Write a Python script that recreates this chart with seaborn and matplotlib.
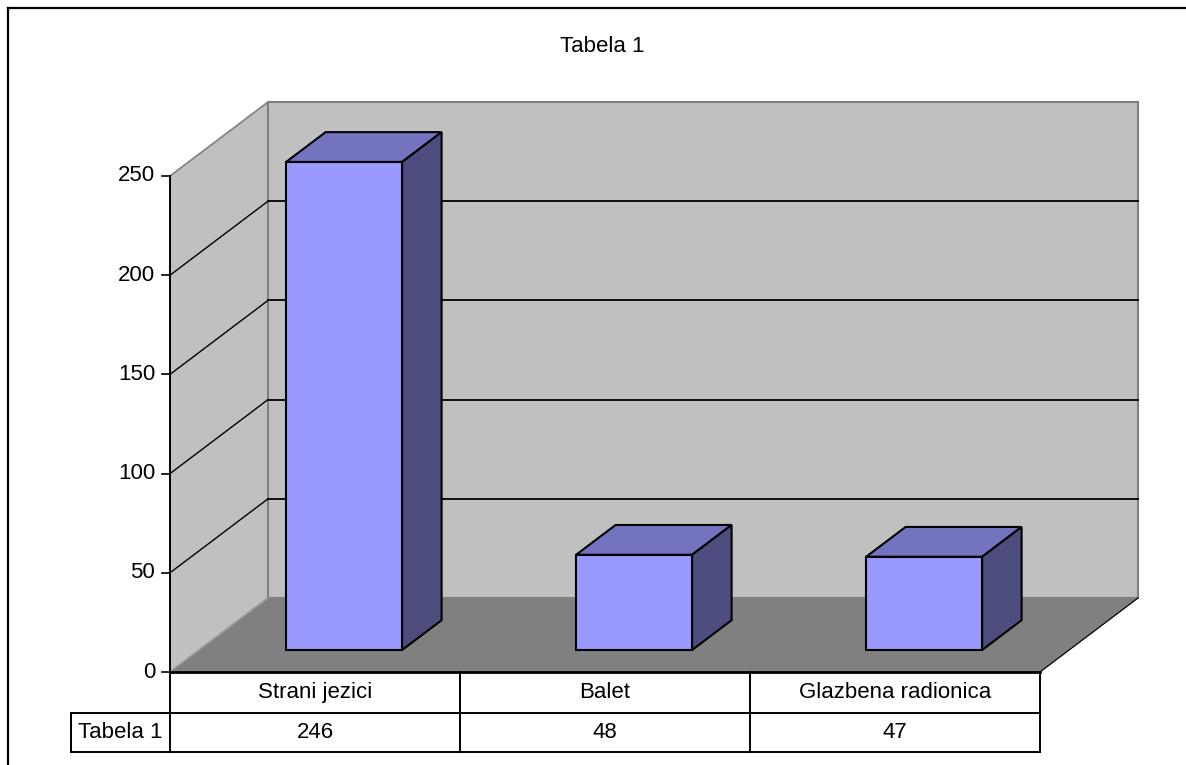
import matplotlib
matplotlib.use("Agg")
import matplotlib.pyplot as plt
from matplotlib.patches import Polygon
import seaborn as sns
import pandas as pd

categories = ["Strani jezici", "Balet", "Glazbena radionica"]
values = [246, 48, 47]
series_name = "Tabela 1"
chart_title = "Tabela 1"
y_ticks = [0, 50, 100, 150, 200, 250]

plt.rcParams['font.family'] = ['Liberation Sans', 'DejaVu Sans']

df = pd.DataFrame({"kategorija": categories, "broj": values})

# pixel <-> data mapping: category i centred at x=i, 290 px per category, 1.984 px per unit
PX_CAT = 290.0
PX_VAL = 496.0 / 250.0
W, H = 1186, 765
X0_PX, Y0_PX = 315.0, 672.0

# 3D depth offsets (in data units)
DX = 98.0 / PX_CAT
DV = 74.0 / PX_VAL
D0, D1 = 0.297, 0.70  # bar depth span as fraction of full depth
BAR_W = 0.4

fig = plt.figure(figsize=(W / 100, H / 100), dpi=100)
ax = fig.add_axes([0, 0, 1, 1])

left = -0.5
right = len(categories) - 0.5
vmax = y_ticks[-1]

wall_c = "#C0C0C0"
edge_c = "#808080"

# side wall
ax.add_patch(Polygon([(left, 0), (left + DX, DV), (left + DX, vmax + DV), (left, vmax)],
                     closed=True, facecolor=wall_c, edgecolor=edge_c, lw=1.2, zorder=0))
# back wall
ax.add_patch(Polygon([(left + DX, DV), (right + DX, DV), (right + DX, vmax + DV), (left + DX, vmax + DV)],
                     closed=True, facecolor=wall_c, edgecolor=edge_c, lw=1.5, zorder=0))
# floor
ax.add_patch(Polygon([(left, 0), (right, 0), (right + DX, DV), (left + DX, DV)],
                     closed=True, facecolor="#808080", edgecolor="none", zorder=1))
ax.plot([left, left + DX], [0, DV], color="#a0a0a0", lw=0.8, zorder=1.5)
ax.plot([right, right + DX], [0, DV], color="black", lw=0.9, zorder=1.5)

# gridlines
for t in y_ticks[1:-1]:
    ax.plot([left, left + DX], [t, t + DV], color="black", lw=1.0, zorder=2)
    ax.plot([left + DX, right + DX], [t + DV, t + DV], color="black", lw=1.3, zorder=2)

# value axis
ax.plot([left, left], [0, vmax], color="black", lw=1.4, zorder=6)
tick_len = 8.0 / PX_CAT
for t in y_ticks:
    ax.plot([left - tick_len, left], [t, t], color="black", lw=1.2, zorder=6)
    ax.text(left - 15.0 / PX_CAT, t, str(t), ha="right", va="center", fontsize=16, zorder=6)

# bars: front face via seaborn, then top & side faces
sns.barplot(data=df, x="kategorija", y="broj", width=BAR_W, color="#9999FF",
            saturation=1, edgecolor="black", linewidth=1.5, ax=ax)
bdx = (D1 - D0) * DX
bdv = (D1 - D0) * DV
for p in ax.patches:
    if not isinstance(p, matplotlib.patches.Rectangle):
        continue
    p.set_x(p.get_x() + D0 * DX)
    p.set_y(D0 * DV)
    p.set_zorder(4)
    x0 = p.get_x()
    x1 = x0 + p.get_width()
    vb = p.get_y()
    vt = vb + p.get_height()
    ax.add_patch(Polygon([(x0, vt), (x1, vt), (x1 + bdx, vt + bdv), (x0 + bdx, vt + bdv)],
                         closed=True, facecolor="#7373BF", edgecolor="black", lw=1.5, zorder=3))
    ax.add_patch(Polygon([(x1, vb), (x1 + bdx, vb + bdv), (x1 + bdx, vt + bdv), (x1, vt)],
                         closed=True, facecolor="#4D4D80", edgecolor="black", lw=1.5, zorder=3))

# data table
r1 = -41.0 / PX_VAL
r2 = -80.0 / PX_VAL
lab_left = (71.0 - X0_PX) / PX_CAT
tlw = 1.4
ax.plot([left, right], [0, 0], color="black", lw=2.0, zorder=7)
ax.plot([lab_left, right], [r1, r1], color="black", lw=tlw, zorder=7)
ax.plot([lab_left, right], [r2, r2], color="black", lw=tlw, zorder=7)
ax.plot([lab_left, lab_left], [r1, r2], color="black", lw=tlw, zorder=7)
for i in range(len(categories) + 1):
    ax.plot([left + i, left + i], [0, r2], color="black", lw=tlw, zorder=7)
for i, (c, v) in enumerate(zip(categories, values)):
    ax.text(i, r1 / 2, c, ha="center", va="center", fontsize=16, zorder=7)
    ax.text(i, (r1 + r2) / 2, str(v), ha="center", va="center", fontsize=16, zorder=7)
ax.text((lab_left + left) / 2, (r1 + r2) / 2, series_name, ha="center", va="center", fontsize=16, zorder=7)

ax.set_xlim((0 - X0_PX) / PX_CAT, (W - X0_PX) / PX_CAT)
ax.set_ylim((Y0_PX - H) / PX_VAL, Y0_PX / PX_VAL)
ax.axis("off")

# title and outer frame
fig.text(602 / W, 1 - 46 / H, chart_title, ha="center", va="center", fontsize=16)
fig.add_artist(plt.Line2D([8 / W, 8 / W], [0, 1 - 8 / H], color="black", lw=1.6))
fig.add_artist(plt.Line2D([8 / W, 1], [1 - 8 / H, 1 - 8 / H], color="black", lw=1.6))

fig.savefig("out.png", dpi=100)
